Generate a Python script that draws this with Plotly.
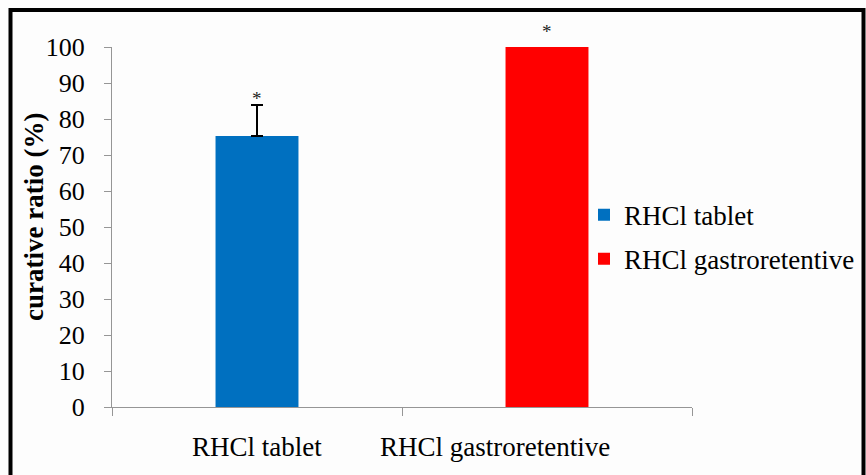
import plotly.graph_objects as go

categories = ["RHCl tablet", "RHCl gastroretentive"]
values = [75.3, 100.0]
errors = [8.6, 0.0]
colors = ["#0070C0", "#FF0000"]
yticks = [0, 10, 20, 30, 40, 50, 60, 70, 80, 90, 100]
y_title = "curative ratio (%)"
star_shift = [-6, 3]
label_shift = [0, -52]

font_family = "Liberation Serif"

fig = go.Figure()
for i, (c, v, e, col) in enumerate(zip(categories, values, errors, colors)):
    fig.add_trace(go.Bar(
        x=[c], y=[v], name=c, legendgroup=c, marker=dict(color=col, line=dict(width=0)),
        width=0.286,
        error_y=dict(type="data", array=[e], arrayminus=[0], symmetric=False,
                     visible=e > 0, color="black", thickness=2, width=6),
    ))
    fig.add_annotation(x=c, y=v + e, text="*", showarrow=False, yanchor="bottom",
                       yshift=star_shift[i], font=dict(size=19, family=font_family, color="#222"))
    # category label below axis
    fig.add_annotation(x=c, yref="paper", y=(407 - 447) / 360, text=c, showarrow=False,
                       xanchor="center", yanchor="middle", xshift=label_shift[i],
                       font=dict(size=27, family=font_family, color="black"))

# y-axis title as rotated annotation
fig.add_annotation(xref="paper", yref="paper", x=(34 - 112) / 580, y=(407 - 217) / 360,
                   text="<b>" + y_title + "</b>", textangle=-90, showarrow=False,
                   xanchor="center", yanchor="middle",
                   font=dict(size=27, family=font_family, color="black"))

fig.update_layout(
    width=866, height=475,
    margin=dict(l=112, r=174, t=47, b=68, autoexpand=False),
    paper_bgcolor="#fdfdfd", plot_bgcolor="#fdfdfd",
    font=dict(family=font_family, size=26, color="black"),
    barmode="overlay",
    showlegend=True,
    legend=dict(x=(584 - 112) / 580, xanchor="left", y=0.472, yanchor="middle",
                font=dict(size=27, family=font_family), itemwidth=30,
                tracegroupgap=6, bgcolor="rgba(0,0,0,0)"),
    xaxis=dict(type="category", showline=True, linecolor="#969696", linewidth=1,
               ticks="outside", ticklen=8, tickcolor="#969696", tickson="boundaries",
               showticklabels=False, showgrid=False),
    yaxis=dict(range=[0, 100], tickvals=yticks, showline=True, linecolor="#969696",
               linewidth=1, ticks="outside", ticklen=7, tickcolor="#969696",
               ticklabelstandoff=14,
               showgrid=False, zeroline=False, tickfont=dict(size=26, family=font_family)),
    shapes=[dict(type="rect", xref="paper", yref="paper",
                 x0=(10.5 - 112) / 580, x1=(863.5 - 112) / 580,
                 y0=(407 - 495) / 360, y1=(407 - 10) / 360,
                 line=dict(color="black", width=4), fillcolor="rgba(0,0,0,0)")],
)

fig.write_html("out.html", config={"displayModeBar": False},
               post_script="document.body.style.margin='0';document.body.style.overflow='hidden';")
